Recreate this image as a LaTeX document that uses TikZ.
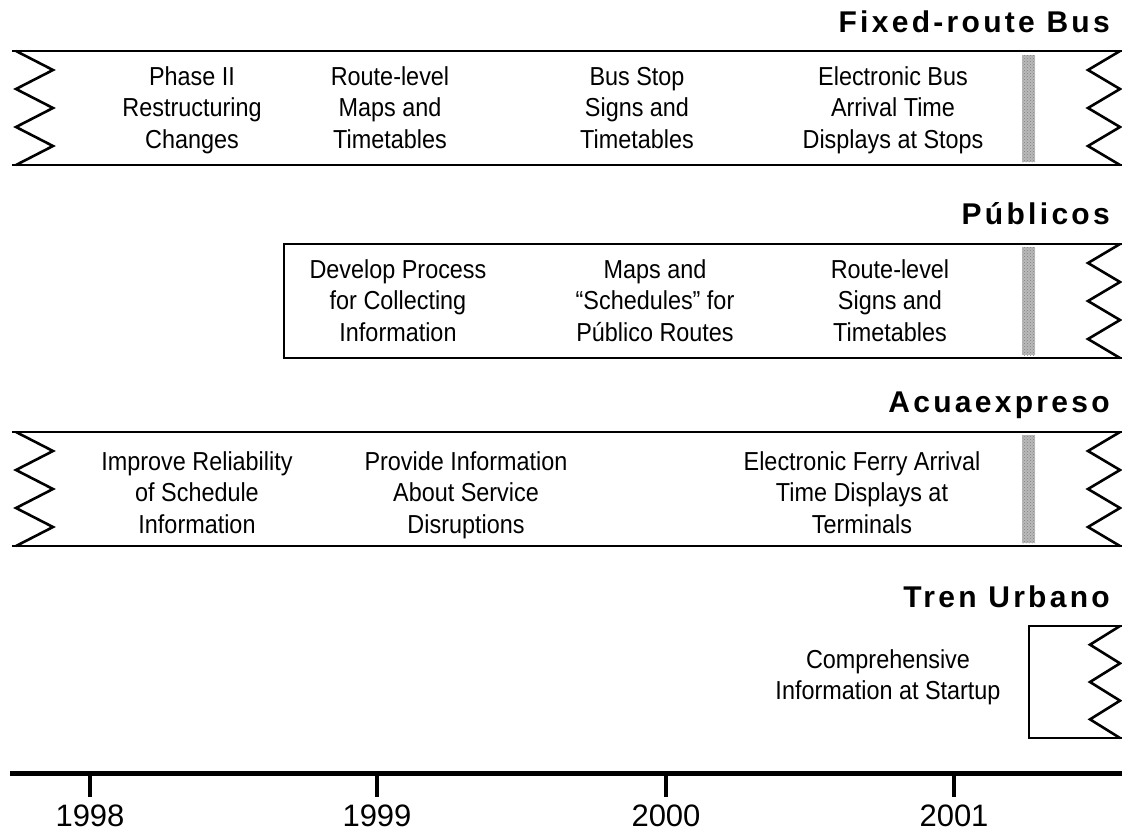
\documentclass[tikz,border=0pt]{standalone}
\usepackage{fontspec}
\setmainfont{Liberation Sans}
\newfontfamily\bodyfont[FakeStretch=0.9]{Liberation Sans}
\newfontfamily\titlefont[LetterSpace=11]{Liberation Sans Bold}
\usetikzlibrary{patterns}

\tikzset{
  edge/.style={line width=2.6pt, line join=miter},
  txt/.style={align=center, anchor=north, inner sep=0pt, font=\bodyfont\fontsize{26}{31.5}\selectfont,
    execute at begin node=\strut, execute at end node=\strut},
  heading/.style={anchor=east, inner sep=0pt, font=\titlefont\fontsize{30}{30}\selectfont},
  stripe/.style={fill=gray!55, pattern=crosshatch dots, pattern color=gray},
  year/.style={inner sep=0pt, font=\fontsize{31}{32}\selectfont}
}
% zigzag: outer x, inner x, top y, bottom y
\newcommand{\zigzag}[4]{%
  \draw[edge] (#1,#3) \foreach \k in {1,...,6}{ -- ({ifthenelse(isodd(\k),#2,#1)},{#3+\k*(#4-#3)/6}) };
}

\begin{document}
\begin{tikzpicture}[x=1pt, y=-1pt]
  \useasboundingbox (0,0) rectangle (1122,831);

  % Fixed-route bus
  \node[heading] (busT) at (1110,22) {Fixed-route Bus};
  \draw[edge] (12,51) -- (1122,51);
  \draw[edge] (12,165) -- (1122,165);
  \zigzag{16}{53}{51}{165}
  \zigzag{1120}{1088}{51}{165}
  \fill[gray!55] (1022,55) rectangle (1035,162);
  \fill[stripe] (1022,55) rectangle (1035,162);
  \node[txt] (bus1) at (192,66) {Phase II\\Restructuring\\Changes};
  \node[txt] (bus2) at (390,66) {Route-level\\Maps and\\Timetables};
  \node[txt] (bus3) at (637,67) {Bus Stop\\Signs and\\Timetables};
  \node[txt] (bus4) at (893,66) {Electronic Bus\\Arrival Time\\Displays at Stops};

  % Publicos
  \node[heading] (pubT) at (1110,214) {Públicos};
  \draw[edge] (1122,244) -- (284,244) -- (284,358) -- (1122,358);
  \zigzag{1120}{1088}{244}{358}
  \fill[gray!55] (1022,247) rectangle (1035,355);
  \fill[stripe] (1022,247) rectangle (1035,355);
  \node[txt] (pub1) at (398,259) {Develop Process\\for Collecting\\Information};
  \node[txt] (pub2) at (655,259) {Maps and\\“Schedules” for\\Público Routes};
  \node[txt] (pub3) at (890,259) {Route-level\\Signs and\\Timetables};

  % Acuaexpreso
  \node[heading] (ferT) at (1110,405) {Acuaexpreso};
  \draw[edge] (12,432) -- (1122,432);
  \draw[edge] (12,546) -- (1122,546);
  \zigzag{16}{53}{432}{546}
  \zigzag{1120}{1088}{432}{546}
  \fill[gray!55] (1022,435) rectangle (1035,543);
  \fill[stripe] (1022,435) rectangle (1035,543);
  \node[txt] (fer1) at (197,451) {Improve Reliability\\of Schedule\\Information};
  \node[txt] (fer2) at (466,451) {Provide Information\\About Service\\Disruptions};
  \node[txt] (fer3) at (862,451) {Electronic Ferry Arrival\\Time Displays at\\Terminals};

  % Tren Urbano
  \node[heading] (trenT) at (1110,597) {Tren Urbano};
  \draw[edge] (1122,626) -- (1029,626) -- (1029,738) -- (1122,738);
  \zigzag{1120}{1090}{626}{738}
  \node[txt] (tren1) at (888,649) {Comprehensive\\Information at Startup};

  % time axis
  \draw[line width=5pt] (10,773) -- (1122,773);
  \foreach \x/\yr in {90/1998, 377/1999, 666/2000, 954/2001}{
    \draw[line width=4.5pt] (\x,773) -- (\x,797);
    \node[year] (y\yr) at (\x,816) {\yr};
  }
\end{tikzpicture}
\end{document}
